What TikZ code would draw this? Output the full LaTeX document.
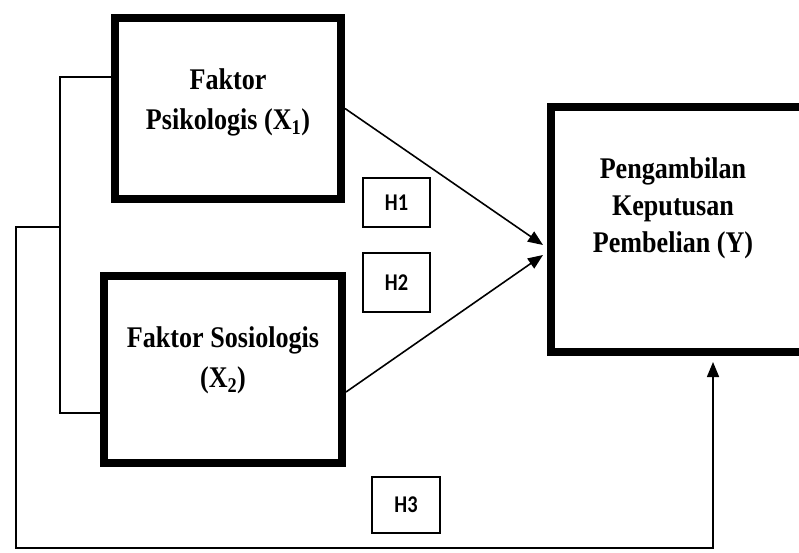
\documentclass[tikz,border=0pt]{standalone}
\usepackage{fontspec}
\setmainfont{Liberation Serif}
\newfontfamily\tfont[FakeStretch=0.87]{Liberation Serif}
\newfontfamily\hfont[FakeStretch=0.85]{Carlito}
\usetikzlibrary{arrows.meta,calc,positioning}
\begin{document}
\begin{tikzpicture}[x=1pt,y=1pt,line join=miter,>={Triangle[length=15pt,width=12pt]}]
\tikzset{every node/.style={font=\tfont\bfseries\fontsize{30}{40}\selectfont,align=center}}
\tikzset{kotak/.style={draw,line width=8pt,inner sep=0pt}}
\tikzset{hkotak/.style={draw,line width=1.8pt,inner sep=0pt,font=\hfont\bfseries\fontsize{24}{26}\selectfont}}
\tikzset{garis/.style={line width=1.6pt}}
\useasboundingbox (0,0) rectangle (799,552);
\begin{scope}
\clip (0,0) rectangle (799,552);
% variabel
\node[kotak,minimum width=226,minimum height=181] (x1) at (228,443.5) {};
\node[kotak,minimum width=238,minimum height=187] (x2) at (223,182.5) {};
\node[kotak,minimum width=279,minimum height=244.5] (y) at (690.5,322.25) {};
\node (tx1) at (228,450) {Faktor\\Psikologis (X\textsubscript{1})};
\node (tx2) at (223,192) {Faktor Sosiologis\\(X\textsubscript{2})};
\node[font=\tfont\bfseries\fontsize{30}{37}\selectfont] (ty) at (673,344) {Pengambilan\\Keputusan\\Pembelian (Y)};
% hipotesis
\node[hkotak,minimum width=67,minimum height=49] (h1) at (396.5,349.5) {H1};
\node[hkotak,minimum width=67,minimum height=59] (h2) at (396.5,269.5) {H2};
\node[hkotak,minimum width=68,minimum height=56] (h3) at (406,47) {H3};
% panah
\coordinate (t1) at (543,307);
\coordinate (t2) at (543,297);
\draw[->,garis] (x1.east) -- (t1);
\draw[->,garis] ([yshift=-22.5]x2.east) -- (t2);
\coordinate (b1) at (60,475);
\coordinate (b2) at (60,139);
\draw[garis] (x1.west |- b1) -- (b1) -- (b2) -- (x2.west |- b2);
\coordinate (b3) at (60,325);
\coordinate (b4) at (16,325);
\coordinate (b5) at (16,4);
\coordinate (b6) at (713,4);
\draw[->,garis] (b3) -- (b4) -- (b5) -- (b6) -- ([yshift=-6]y.south -| b6);
\end{scope}
\end{tikzpicture}
\end{document}
